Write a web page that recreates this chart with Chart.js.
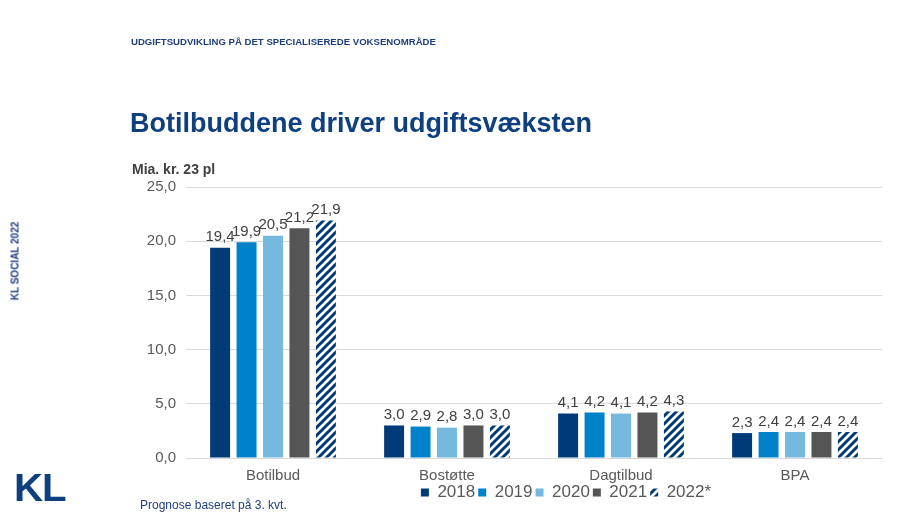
<!DOCTYPE html>
<html>
<head>
<meta charset="utf-8">
<script src="https://cdn.jsdelivr.net/npm/chart.js@4"></script>
<style>
  html,body{margin:0;padding:0;background:#fff;width:899px;height:513px;overflow:hidden;font-family:"Liberation Sans",Arial,sans-serif;}
  #wrap{position:relative;width:899px;height:513px;}
  canvas{position:absolute;left:0;top:0;}
  .t{position:absolute;white-space:nowrap;}
  #hdr{left:131px;top:36px;font-size:9.6px;font-weight:bold;color:#1F3F7F;}
  #title{left:130px;top:108px;font-size:27px;font-weight:bold;color:#0E3F7E;}
  #unit{left:132px;top:161px;font-size:14px;font-weight:bold;color:#404040;}
  #side{left:15px;top:261px;font-size:10px;font-weight:bold;color:#1F3F7F;transform:translate(-50%,-50%) rotate(-90deg);}
  #logo{left:14px;top:467px;font-size:38px;font-weight:bold;color:#0E3F7E;letter-spacing:-1px;transform:scaleX(1.06);transform-origin:left top;}
  #note{left:140px;top:498px;font-size:12px;color:#1F3F7F;}
</style>
</head>
<body>
<div id="wrap">
  <canvas id="c" width="899" height="513"></canvas>
  <div class="t" id="hdr">UDGIFTSUDVIKLING PÅ DET SPECIALISEREDE VOKSENOMRÅDE</div>
  <div class="t" id="title">Botilbuddene driver udgiftsvæksten</div>
  <div class="t" id="unit">Mia. kr. 23 pl</div>
  <div class="t" id="side">KL SOCIAL 2022</div>
  <div class="t" id="logo">KL</div>
  <div class="t" id="note">Prognose baseret på 3. kvt.</div>
</div>
<script>
const categories = ["Botilbud", "Bostøtte", "Dagtilbud", "BPA"];
const seriesNames = ["2018", "2019", "2020", "2021", "2022*"];
const v2018 = [19.4, 3.0, 4.1, 2.3];
const v2019 = [19.9, 2.9, 4.2, 2.4];
const v2020 = [20.5, 2.8, 4.1, 2.4];
const v2021 = [21.2, 3.0, 4.2, 2.4];
const v2022 = [21.9, 3.0, 4.3, 2.4];
const yTicks = [0, 5, 10, 15, 20, 25];

const navy = "#003A78";
function makeHatch() {
  const s = 8;
  const p = document.createElement("canvas");
  p.width = s; p.height = s;
  const g = p.getContext("2d");
  g.fillStyle = "#ffffff";
  g.fillRect(0, 0, s, s);
  g.strokeStyle = navy;
  g.lineWidth = 3;
  g.beginPath();
  g.moveTo(-2, s + 2); g.lineTo(s + 2, -2);
  g.moveTo(-2, 2); g.lineTo(2, -2);
  g.moveTo(s - 2, s + 2); g.lineTo(s + 2, s - 2);
  g.stroke();
  return document.getElementById("c").getContext("2d").createPattern(p, "repeat");
}
const hatch = makeHatch();

const fmt = v => v.toFixed(1).replace(".", ",");

const valueLabels = {
  id: "valueLabels",
  afterDatasetsDraw(chart) {
    const ctx = chart.ctx;
    ctx.save();
    ctx.font = "15px 'Liberation Sans', Arial, sans-serif";
    ctx.fillStyle = "#404040";
    ctx.textAlign = "center";
    ctx.textBaseline = "bottom";
    chart.data.datasets.forEach((ds, i) => {
      const meta = chart.getDatasetMeta(i);
      meta.data.forEach((el, j) => {
        ctx.fillText(fmt(ds.data[j]), el.x, el.y - 3);
      });
    });
    ctx.restore();
  }
};

const legendShift = {
  id: "legendShift",
  afterLayout(chart) {
    const lg = chart.legend;
    if (lg) { lg.left += 65; lg.right += 65; lg.top -= 13; lg.bottom -= 13; }
  }
};

const colors = ["#003A78", "#0082CA", "#75B9E1", "#555555", hatch];
const values = [v2018, v2019, v2020, v2021, v2022];

new Chart(document.getElementById("c"), {
  type: "bar",
  data: {
    labels: categories,
    datasets: seriesNames.map((n, i) => ({
      label: n,
      data: values[i],
      backgroundColor: colors[i],
      borderWidth: 0,
      categoryPercentage: 0.76,
      barPercentage: 0.755
    }))
  },
  options: {
    responsive: false,
    animation: false,
    devicePixelRatio: 1,
    layout: { padding: { left: 120, right: 17, top: 187, bottom: -11 } },
    scales: {
      x: {
        grid: { display: false, drawTicks: false },
        border: { color: "#d9d9d9" },
        ticks: { color: "#595959", font: { size: 15, family: "'Liberation Sans', Arial, sans-serif" }, padding: 9 }
      },
      y: {
        min: 0, max: 25,
        afterFit: s => { s.width = 66; },
        afterBuildTicks: s => { s.ticks = yTicks.map(v => ({ value: v })); },
        grid: { color: "#d9d9d9", drawTicks: false },
        border: { display: false },
        ticks: { color: "#595959", font: { size: 15, family: "'Liberation Sans', Arial, sans-serif" }, padding: 10, callback: v => fmt(v) }
      }
    },
    plugins: {
      legend: {
        position: "bottom",
        labels: {
          boxWidth: 8, boxHeight: 8, padding: 3,
          color: "#595959",
          font: { size: 17, family: "'Liberation Sans', Arial, sans-serif" }
        }
      },
      tooltip: { enabled: false }
    }
  },
  plugins: [valueLabels, legendShift]
});
</script>
</body>
</html>
